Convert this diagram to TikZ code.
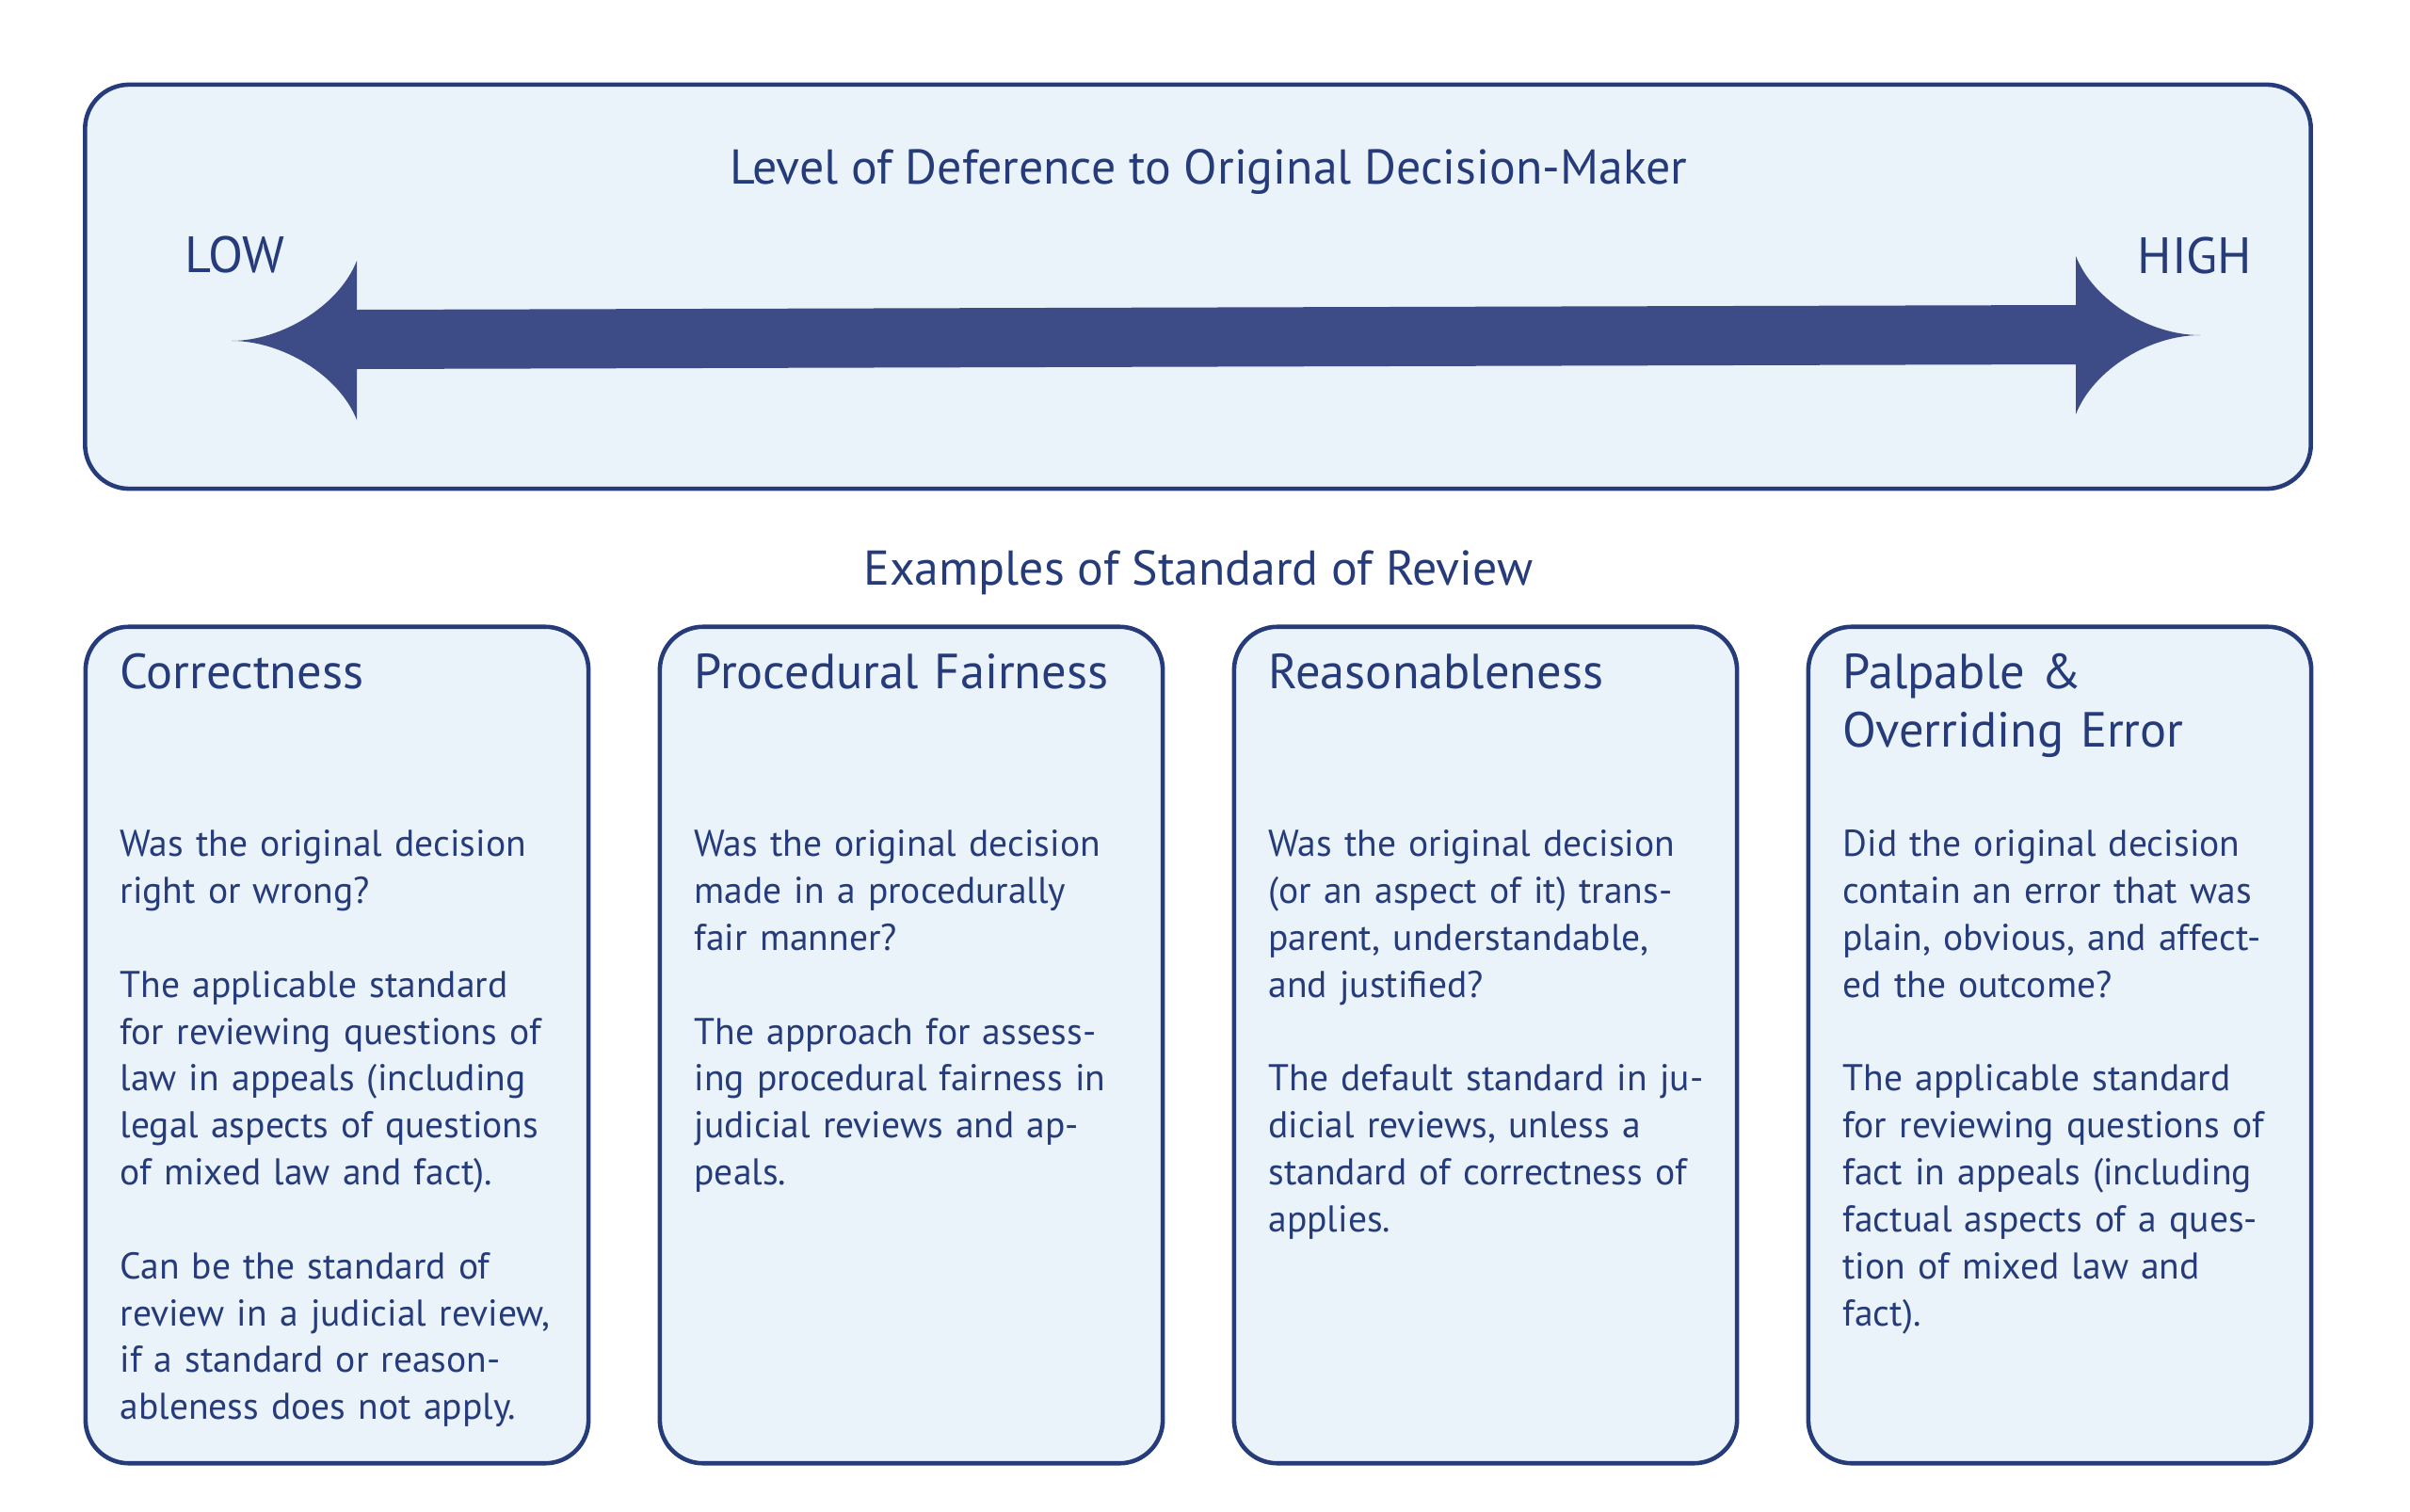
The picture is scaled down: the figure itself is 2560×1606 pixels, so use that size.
\documentclass[tikz,border=0pt]{standalone}
\usepackage{fontspec}
\setmainfont{PT Sans}
\usetikzlibrary{positioning}

\definecolor{inkblue}{RGB}{37,59,122}
\definecolor{arrowblue}{RGB}{61,76,134}
\definecolor{paleblue}{RGB}{234,242,250}

\newcommand{\bodysize}{\fontsize{11.25}{14.17}\selectfont}
\newcommand{\headsize}{\fontsize{14.9}{17.6}\selectfont}
\newcommand{\scalesize}{\fontsize{14.75}{18}\selectfont}
\newcommand{\polesize}{\fontsize{15.4}{18}\selectfont}

\begin{document}
\begin{tikzpicture}[
    x=0.01cm, y=-0.01cm,
    panel/.style={rectangle, draw=inkblue, line width=1.3pt, fill=paleblue, rounded corners=0.46cm, outer sep=0pt},
    card/.style={panel, minimum width=5.34cm, minimum height=8.88cm, inner sep=0pt},
    heading/.style={anchor=base west, inner sep=0pt, text=inkblue, font=\headsize, text width=4.9cm, align=left},
    bodytext/.style={anchor=base west, inner sep=0pt, text=inkblue, font=\bodysize, text width=4.9cm, align=left},
    scaletext/.style={inner sep=0pt, text=inkblue, font=\scalesize}
]
    \useasboundingbox (0,0) rectangle (2560,1606);

    % deference scale
    \node[panel, minimum width=23.63cm, minimum height=4.29cm, rounded corners=0.47cm] (scale) at (1272.5,304.5) {};
    \node[scaletext, anchor=base] (scaletitle) at (1284,195) {Level of Deference to Original Decision-Maker};
    \node[scaletext, font=\polesize, anchor=base west] (low) at (196,289) {LOW};
    \node[scaletext, font=\polesize, anchor=base east] (high) at (2393,290) {HIGH};

    \coordinate (lowtip) at (246,362);
    \coordinate (hightip) at (2337,356);
    \fill[arrowblue] (lowtip) .. controls (299,362) and (360,325) .. (379,277) -- (379,329) -- (2205,324) -- (2205,272)
        .. controls (2224,320) and (2284,356) .. (hightip)
        .. controls (2284,356) and (2224,392) .. (2205,440) -- (2205,387) -- (379,392) -- (379,446)
        .. controls (360,398) and (299,362) .. (lowtip) -- cycle;

    \node[scaletext, anchor=base] (examples) at (1273,621) {Examples of Standard of Review};

    % standards of review
    \node[card] (corr) at (358,1110) {};
    \node[card] (fair) at (968,1110) {};
    \node[card] (reas) at (1578,1110) {};
    \node[card] (palp) at (2188,1110) {};

    \node[heading] (corrhead) at ([shift={(36,66)}]corr.north west) {Correctness};
    \node[heading] (fairhead) at ([shift={(36,66)}]fair.north west) {Procedural Fairness};
    \node[heading] (reashead) at ([shift={(36,66)}]reas.north west) {Reasonableness};
    \node[heading] (palphead) at ([shift={(36,66)}]palp.north west) {Palpable \&\\Overriding Error};

    \node[bodytext] (corrbody) at ([shift={(36,244)}]corr.north west) {Was the original decision\\right or wrong?\\[\baselineskip]The applicable standard\\for reviewing questions of\\law in appeals (including\\legal aspects of questions\\of mixed law and fact).\\[\baselineskip]Can be the standard of\\review in a judicial review,\\if a standard or reason-\\ableness does not apply.};
    \node[bodytext] (fairbody) at ([shift={(36,244)}]fair.north west) {Was the original decision\\made in a procedurally\\fair manner?\\[\baselineskip]The approach for assess-\\ing procedural fairness in\\judicial reviews and ap-\\peals.};
    \node[bodytext] (reasbody) at ([shift={(36,244)}]reas.north west) {Was the original decision\\(or an aspect of it) trans-\\parent, understandable,\\and justified?\\[\baselineskip]The default standard in ju-\\dicial reviews, unless a\\standard of correctness of\\applies.};
    \node[bodytext] (palpbody) at ([shift={(36,244)}]palp.north west) {Did the original decision\\contain an error that was\\plain, obvious, and affect-\\ed the outcome?\\[\baselineskip]The applicable standard\\for reviewing questions of\\fact in appeals (including\\factual aspects of a ques-\\tion of mixed law and\\fact).};
\end{tikzpicture}
\end{document}
